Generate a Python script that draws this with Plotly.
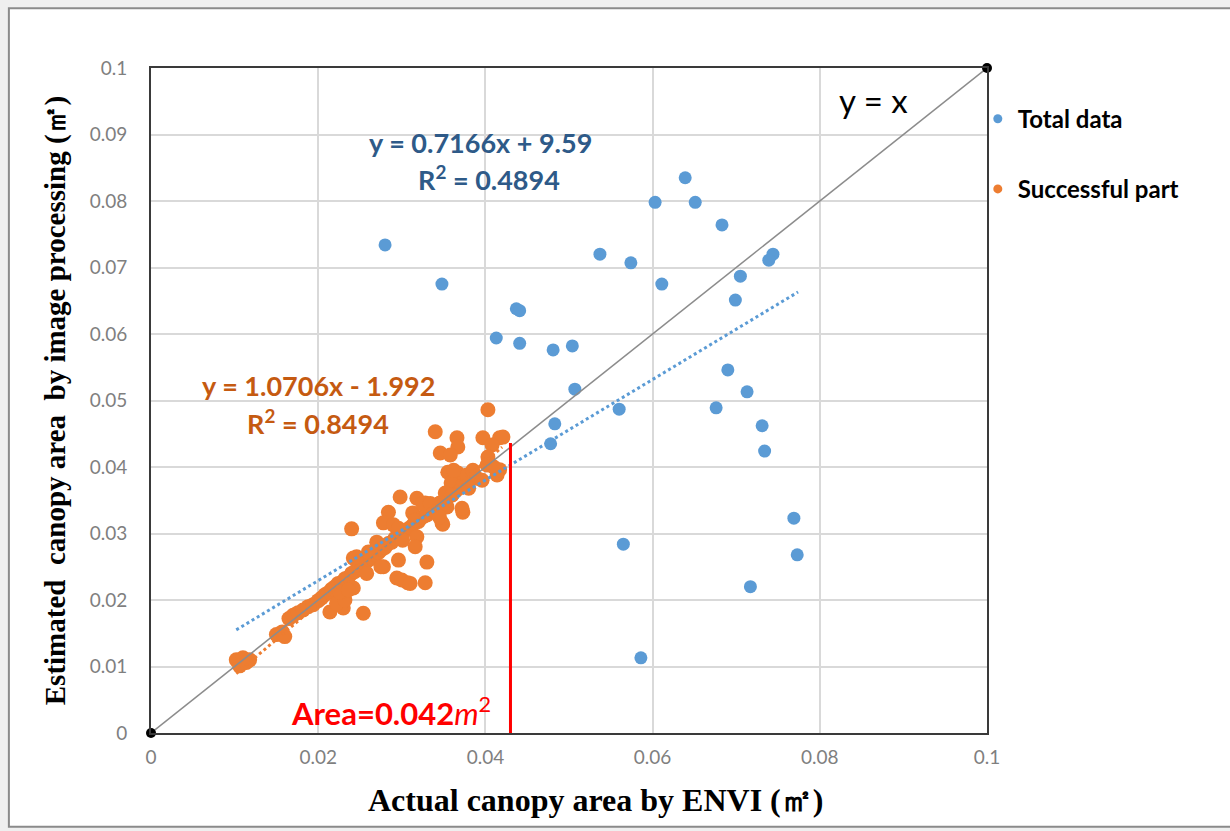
import plotly.graph_objects as go

# ---------------- data ----------------
# Outlier points of "Total data" (not in the successful part)
total_only_x = [0.0280, 0.0348, 0.0413, 0.0437, 0.0441, 0.0441, 0.0481, 0.0504, 0.0507, 0.0483,
                0.0478, 0.0537, 0.0574, 0.0603, 0.0639, 0.0651, 0.0611, 0.0683, 0.0705, 0.0699,
                0.0744, 0.0739, 0.0690, 0.0713, 0.0676, 0.0560, 0.0731, 0.0734, 0.0769, 0.0773,
                0.0565, 0.0717, 0.0586]
total_only_y = [0.0734, 0.0675, 0.0594, 0.0638, 0.0635, 0.0586, 0.0576, 0.0582, 0.0517, 0.0465,
                0.0435, 0.0720, 0.0707, 0.0798, 0.0835, 0.0798, 0.0675, 0.0764, 0.0687, 0.0651,
                0.0720, 0.0711, 0.0546, 0.0513, 0.0489, 0.0487, 0.0462, 0.0424, 0.0323, 0.0268,
                0.0284, 0.0220, 0.0113]

# "Successful part" points
succ_x = [0.0102, 0.0110, 0.0118, 0.0106, 0.0114, 0.0150, 0.0157, 0.0160,
          0.0165, 0.0170, 0.0176, 0.0182, 0.0188, 0.0194, 0.0200, 0.0204, 0.0208, 0.0212,
          0.0216, 0.0220, 0.0224, 0.0228, 0.0232, 0.0236, 0.0240, 0.0244, 0.0248, 0.0252,
          0.0256, 0.0260, 0.0264, 0.0268, 0.0272, 0.0276, 0.0280, 0.0284, 0.0288, 0.0292,
          0.0296, 0.0300, 0.0305, 0.0310, 0.0315, 0.0320, 0.0325, 0.0330, 0.0335, 0.0340,
          0.0345, 0.0350, 0.0355, 0.0360, 0.0366, 0.0372, 0.0378, 0.0385,
          0.0214, 0.0230, 0.0254, 0.0222, 0.0232, 0.0242, 0.0258, 0.0242, 0.0246, 0.0260,
          0.0270, 0.0278, 0.0294, 0.0307, 0.0328, 0.0296, 0.0330, 0.0318, 0.0316, 0.0240,
          0.0284, 0.0298, 0.0318, 0.0328, 0.0278, 0.0290, 0.0296, 0.0313, 0.0316, 0.0226,
          0.0236, 0.0275, 0.0300, 0.0310, 0.0301, 0.0325, 0.0346, 0.0348,
          0.0403, 0.0340, 0.0366, 0.0367, 0.0346, 0.0358, 0.0397, 0.0417, 0.0421, 0.0408,
          0.0403, 0.0402, 0.0414, 0.0417, 0.0355, 0.0367, 0.0378, 0.0390, 0.0396, 0.0359,
          0.0371, 0.0380, 0.0352, 0.0360, 0.0373, 0.0372, 0.0349, 0.0342, 0.0354, 0.0334,
          0.0345, 0.0362, 0.0410, 0.0385]
succ_y = [0.0110, 0.0113, 0.0110, 0.0101, 0.0106, 0.0148, 0.0152, 0.0145,
          0.0172, 0.0177, 0.0181, 0.0185, 0.0190, 0.0193, 0.0199, 0.0203, 0.0208, 0.0211,
          0.0216, 0.0220, 0.0225, 0.0226, 0.0232, 0.0234, 0.0240, 0.0243, 0.0249, 0.0252,
          0.0256, 0.0260, 0.0263, 0.0268, 0.0271, 0.0276, 0.0279, 0.0285, 0.0287, 0.0293,
          0.0296, 0.0299, 0.0305, 0.0309, 0.0315, 0.0318, 0.0325, 0.0328, 0.0336, 0.0339,
          0.0345, 0.0348, 0.0355, 0.0358, 0.0366, 0.0370, 0.0378, 0.0384,
          0.0182, 0.0188, 0.0180, 0.0195, 0.0200, 0.0218, 0.0240, 0.0263, 0.0265, 0.0272,
          0.0287, 0.0250, 0.0233, 0.0226, 0.0226, 0.0260, 0.0257, 0.0295, 0.0280, 0.0307,
          0.0332, 0.0355, 0.0353, 0.0346, 0.0316, 0.0313, 0.0308, 0.0331, 0.0320, 0.0212,
          0.0215, 0.0250, 0.0230, 0.0225, 0.0290, 0.0345, 0.0346, 0.0316,
          0.0486, 0.0453, 0.0444, 0.0430, 0.0421, 0.0418, 0.0444, 0.0444, 0.0445, 0.0433,
          0.0415, 0.0403, 0.0388, 0.0396, 0.0392, 0.0391, 0.0388, 0.0383, 0.0380, 0.0376,
          0.0370, 0.0368, 0.0361, 0.0358, 0.0332, 0.0338, 0.0314, 0.0330, 0.0340, 0.0345,
          0.0325, 0.0395, 0.0400, 0.0395]

# Linear trend lines as drawn (slope, intercept, x-range)
blue_trend = dict(slope=0.756, intercept=0.0078, x0=0.0102, x1=0.0774)
orange_trend = dict(slope=1.0706, intercept=-0.00199, x0=0.0102, x1=0.0420)

area_x = 0.0430          # red marker line position
area_top = 0.0436

axis_ticks_x = [0, 0.02, 0.04, 0.06, 0.08, 0.1]
axis_ticks_y = [0, 0.01, 0.02, 0.03, 0.04, 0.05, 0.06, 0.07, 0.08, 0.09, 0.1]

# ---------------- styles ----------------
BLUE = "#5b9bd5"
ORANGE = "#ed7d31"
SANS = "Lato, 'Open Sans', sans-serif"
SERIF = "'Liberation Serif', 'Times New Roman', serif"

total_x = total_only_x + succ_x
total_y = total_only_y + succ_y

fig = go.Figure()

fig.add_trace(go.Scatter(x=total_x, y=total_y, mode="markers", name="Total data",
                         marker=dict(color=BLUE, size=13), showlegend=False))
fig.add_trace(go.Scatter(x=succ_x, y=succ_y, mode="markers", name="Successful part",
                         marker=dict(color=ORANGE, size=15), showlegend=False))

# y = x reference line with end dots
fig.add_trace(go.Scatter(x=[0, 0.1], y=[0, 0.1], mode="lines",
                         line=dict(color="#8c8c8c", width=1.5), showlegend=False))
fig.add_trace(go.Scatter(x=[0, 0.1], y=[0, 0.1], mode="markers",
                         marker=dict(color="black", size=10), showlegend=False, cliponaxis=False))

# trend lines
for tr, col in ((orange_trend, ORANGE), (blue_trend, BLUE)):
    xs = [tr["x0"], tr["x1"]]
    ys = [tr["slope"] * v + tr["intercept"] for v in xs]
    fig.add_trace(go.Scatter(x=xs, y=ys, mode="lines",
                             line=dict(color=col, width=3, dash="dot"), showlegend=False))

# red area line
fig.add_trace(go.Scatter(x=[area_x, area_x], y=[0, area_top], mode="lines",
                         line=dict(color="red", width=3), showlegend=False))

# legend entries
fig.add_trace(go.Scatter(x=[None], y=[None], mode="markers", name="<b>Total data</b>",
                         marker=dict(color=BLUE, size=9), legendgroup="a"))
fig.add_trace(go.Scatter(x=[None], y=[None], mode="markers", name="<b>Successful part</b>",
                         marker=dict(color=ORANGE, size=9), legendgroup="b"))

ann = [
    dict(x=0.0394, y=0.0888, text="<b>y = 0.7166x + 9.59</b>", font=dict(color="#2e5a88", size=27, family=SANS)),
    dict(x=0.0404, y=0.0834, text="<b>R<sup>2</sup> = 0.4894</b>", font=dict(color="#2e5a88", size=27, family=SANS)),
    dict(x=0.0200, y=0.0522, text="<b>y = 1.0706x - 1.992</b>", font=dict(color="#c55a11", size=27, family=SANS)),
    dict(x=0.0200, y=0.0467, text="<b>R<sup>2</sup> = 0.8494</b>", font=dict(color="#c55a11", size=27, family=SANS)),
    dict(x=0.0864, y=0.0952, text="y = x", font=dict(color="black", size=33, family=SANS)),
    dict(x=0.0287, y=0.0033, text="<b>Area=0.042</b><i>m</i><sup>2</sup>", font=dict(color="red", size=31, family=SANS)),
]
for a in ann:
    a.update(xref="x", yref="y", showarrow=False)
# x-axis title placed as in the reference (slightly right of centre)
ann.append(dict(xref="paper", yref="paper", x=0.532, y=-0.101, xanchor="center", yanchor="middle",
                showarrow=False, text="<b>Actual canopy area by ENVI (㎡)</b>",
                font=dict(family=SERIF, size=32, color="black")))

fig.update_layout(
    width=1230, height=831,
    margin=dict(l=151, r=243, t=68, b=98),
    paper_bgcolor="#efefef",
    plot_bgcolor="white",
    annotations=ann,
    shapes=[dict(type="rect", xref="paper", yref="paper", x0=-0.170, x1=1.30, y0=-0.141, y1=1.090,
                 fillcolor="white", line=dict(color="#8a8a8a", width=2), layer="below")],
    legend=dict(x=0.989, y=0.957, xanchor="left", yanchor="top", tracegroupgap=36,
                font=dict(family=SANS, size=24, color="black"), bgcolor="rgba(0,0,0,0)",
                itemwidth=30),
    showlegend=True,
    font=dict(family=SANS),
)

fig.update_xaxes(range=[0, 0.1], tickvals=axis_ticks_x, ticktext=[f"{v:g}" for v in axis_ticks_x],
                 showgrid=True, gridcolor="#d9d9d9", gridwidth=1.5,
                 showline=True, linecolor="#3a3a3a", linewidth=2, mirror=True, zeroline=False,
                 ticks="outside", ticklen=6, tickcolor="rgba(0,0,0,0)",
                 tickfont=dict(family=SANS, size=19, color="#7f7f7f"))
fig.update_yaxes(range=[0, 0.1], tickvals=axis_ticks_y, ticktext=[f"{v:g}" for v in axis_ticks_y],
                 showgrid=True, gridcolor="#d9d9d9", gridwidth=1.5,
                 showline=True, linecolor="#3a3a3a", linewidth=2, mirror=True, zeroline=False,
                 ticks="outside", ticklen=18, tickcolor="rgba(0,0,0,0)",
                 tickfont=dict(family=SANS, size=19, color="#7f7f7f"),
                 title=dict(text="<b>Estimated  canopy area  by image processing (㎡)</b>", standoff=16,
                            font=dict(family=SERIF, size=29, color="black")))

fig.write_html("out.html")
